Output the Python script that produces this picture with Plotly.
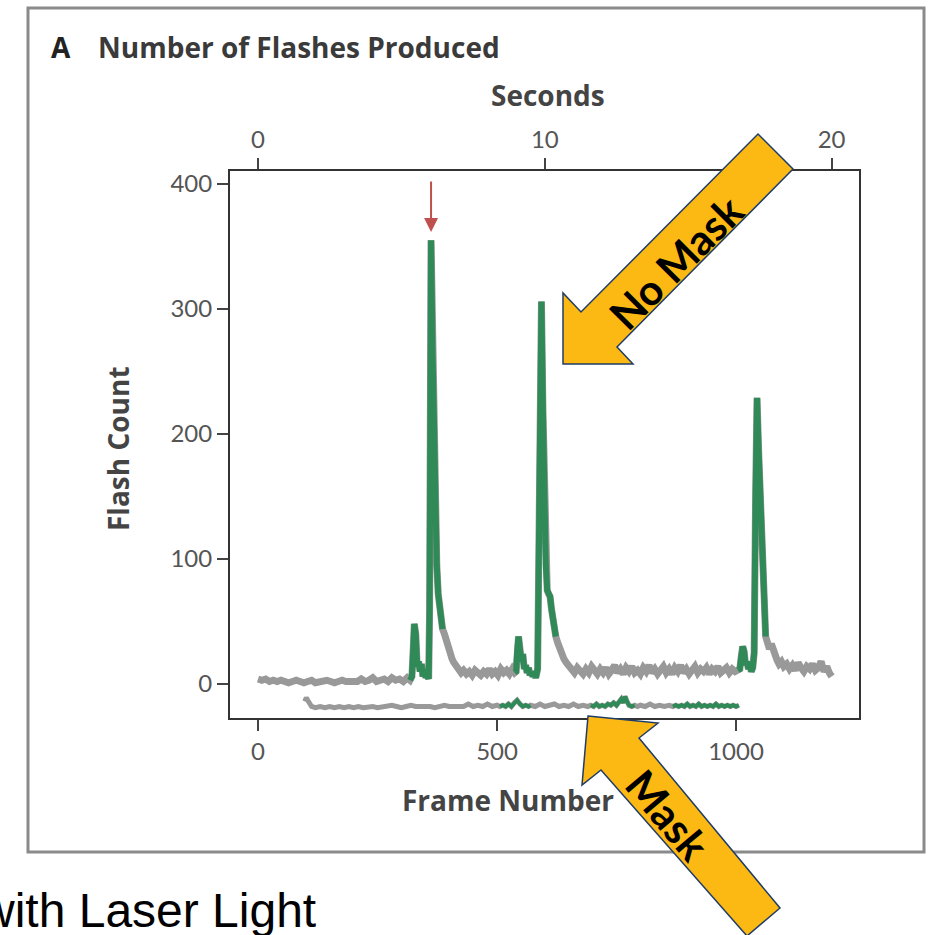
import plotly.graph_objects as go

# ---------------- data ----------------
nomask_frame = [0, 8, 16, 24, 32, 40, 48, 56, 64, 72, 80, 88, 96, 104, 112, 120, 128, 136, 144, 152, 160, 168, 176, 184, 192, 200, 208, 216, 224, 232, 240, 248, 256, 264, 272, 280, 288, 296, 304, 312, 318,
                322, 325, 327, 330, 333, 336, 339, 342, 345, 348, 351, 354, 357, 359, 362, 365, 368, 371, 374, 377, 380, 383, 386,
                390, 394, 398, 402, 406, 410, 415, 420, 425, 430, 436, 442, 448, 454, 460, 466, 472, 478, 484, 490, 496, 502, 508, 514, 520, 526, 532, 537,
                540, 542, 545, 548, 551, 554, 557, 560, 563, 566, 569, 572, 575, 578, 581, 585, 588, 593, 596, 599, 602, 605, 608, 611, 614, 617, 620, 623,
                627, 631, 635, 640, 645, 650, 656, 662, 668, 674, 680, 686, 692, 698, 704, 710, 716, 722, 728, 734, 740, 746, 752, 758, 764, 770, 776, 782, 788, 794, 800, 806, 812, 818, 824, 830, 836, 842, 848, 854, 860, 866, 872, 878, 884, 890, 896, 902, 908, 914, 920, 926, 932, 938, 944, 950, 956, 962, 968, 974, 980, 986, 992, 998, 1004,
                1008, 1011, 1014, 1017, 1020, 1023, 1026, 1029, 1032, 1035, 1038, 1041, 1044, 1047, 1050, 1053, 1056, 1059, 1062,
                1066, 1070, 1074, 1078, 1082, 1086, 1090, 1095, 1100, 1106, 1112, 1118, 1124, 1130, 1136, 1142, 1148, 1154, 1160, 1166, 1172, 1178, 1184, 1190, 1195, 1200]
nomask_count = [4, 3, 4, 2, 3, 2, 3, 2, 1, 2, 3, 2, 1, 2, 3, 1, 2, 2, 3, 2, 1, 2, 3, 2, 2, 3, 2, 4, 2, 3, 5, 2, 3, 4, 2, 5, 3, 4, 2, 5, 3,
                6, 30, 48, 40, 14, 18, 10, 16, 6, 12, 5, 8, 4, 60, 355, 270, 190, 130, 95, 72, 58, 50, 44,
                40, 34, 28, 24, 20, 17, 14, 12, 9, 11, 8, 10, 7, 11, 9, 7, 10, 8, 12, 8, 10, 7, 12, 9, 11, 8, 12, 9,
                10, 25, 38, 28, 18, 24, 12, 15, 9, 13, 7, 10, 6, 9, 5, 12, 120, 306, 220, 140, 95, 75, 72, 70, 60, 50, 44, 38,
                33, 28, 24, 20, 17, 14, 12, 9, 13, 10, 8, 12, 9, 14, 10, 8, 12, 9, 13, 8, 11, 15, 9, 12, 8, 13, 10, 14, 9, 11, 8, 13, 10, 15, 9, 12, 8, 11, 14, 9, 12, 8, 13, 10, 15, 9, 12, 8, 11, 14, 9, 12, 10, 13, 8, 12, 10, 14, 9, 11, 13, 9, 12, 10, 11,
                12, 22, 30, 26, 15, 18, 12, 15, 10, 13, 25, 150, 229, 190, 152, 120, 85, 55, 38,
                33, 28, 32, 26, 22, 19, 16, 18, 14, 16, 12, 15, 11, 17, 13, 10, 14, 12, 16, 11, 13, 18, 10, 14, 9, 6]

mask_frame = [98, 101, 104, 108, 112, 120, 130, 140, 150, 160, 170, 180, 190, 200, 210, 220, 230, 240, 250, 260, 270, 280, 290, 300, 310, 320, 330, 340, 350, 360, 370, 380, 390, 400, 410, 420, 430, 440, 450, 460, 470, 480, 490, 500,
              506, 512, 518, 524, 530, 536, 542, 548, 554, 560, 566, 570, 580, 590, 600, 610, 620, 630, 640, 650, 660, 670, 680, 690,
              696, 702, 708, 714, 720, 726, 732, 738, 744, 750, 756, 760, 764, 768, 772, 776, 782, 788, 794, 800, 810, 820, 830, 840, 850, 860,
              868, 874, 880, 886, 892, 898, 904, 910, 916, 922, 928, 934, 940, 946, 952, 958, 964, 970, 976, 982, 988, 994, 1000, 1006]
mask_count = [-14, -11, -13, -16, -18, -19, -18, -19, -18, -19, -18, -19, -18, -19, -18, -19, -18, -18, -19, -18, -18, -17, -18, -19, -18, -17, -18, -18, -17, -18, -19, -18, -17, -18, -18, -17, -18, -16, -18, -17, -18, -16, -18, -17,
              -18, -17, -18, -16, -18, -15, -13, -16, -18, -17, -18, -17, -18, -16, -18, -17, -16, -18, -17, -18, -16, -18, -17, -18,
              -17, -18, -16, -18, -17, -18, -16, -17, -15, -17, -14, -12, -15, -10, -14, -17, -18, -17, -18, -17, -18, -16, -18, -17, -18, -17,
              -18, -17, -18, -17, -18, -16, -18, -17, -18, -16, -18, -17, -18, -17, -18, -16, -18, -17, -18, -17, -18, -17, -18, -17]

# frame windows in which the trace is highlighted green (laser on)
nomask_laser_windows = [(318, 386), (537, 623), (1004, 1062)]
mask_laser_windows = [(506, 570), (696, 790), (868, 1006)]

x_ticks = [0, 500, 1000]
y_ticks = [0, 100, 200, 300, 400]
sec_ticks = [0, 10, 20]
FPS = 60
peak_marker_frame = 362

# ---------------- style ----------------
GRAY = "#999999"
GREEN = "#2f8a58"
FONT = "Lato, sans-serif"
TITLE_FONT = "Open Sans, Lato, sans-serif"
W, H = 929, 935
L, R, T, B = 230, 859, 171, 718   # plot area in pixels
X0 = -58.6
X1 = 1257.3
Y0 = -27.2
Y1 = 410.4


def px(x, y):
    return (x - L) / (R - L), (B - y) / (B - T)


fig = go.Figure()


def add_series(frames, counts, windows, width):
    fig.add_trace(go.Scatter(x=frames, y=counts, mode="lines",
                             line=dict(color=GRAY, width=width), hoverinfo="skip"))
    for a, b in windows:
        xs = [f for f in frames if a <= f <= b]
        ys = [c for f, c in zip(frames, counts) if a <= f <= b]
        fig.add_trace(go.Scatter(x=xs, y=ys, mode="lines",
                                 line=dict(color=GREEN, width=width - 1), hoverinfo="skip"))


add_series(nomask_frame, nomask_count, nomask_laser_windows, 7)
add_series(mask_frame, mask_count, mask_laser_windows, 5)

# invisible trace on the top (seconds) axis
fig.add_trace(go.Scatter(x=[t for t in sec_ticks], y=[None] * len(sec_ticks), xaxis="x2",
                         mode="lines", showlegend=False, hoverinfo="skip"))

axis_common = dict(showgrid=False, zeroline=False, showline=True, linecolor="#333333", linewidth=2,
                   ticks="outside", ticklen=11, tickwidth=2, tickcolor="#444444",
                   tickfont=dict(family=FONT, size=24, color="#555555"))

fig.update_layout(
    width=W, height=H,
    margin=dict(l=L, r=W - R, t=T, b=H - B),
    plot_bgcolor="white", paper_bgcolor="white", showlegend=False,
    xaxis=dict(range=[X0, X1], tickvals=x_ticks, mirror=True, **axis_common),
    yaxis=dict(range=[Y0, Y1], tickvals=y_ticks, mirror=True, **axis_common),
    xaxis2=dict(range=[X0 / FPS, X1 / FPS], tickvals=sec_ticks, overlaying="x", side="top",
                **axis_common),
)

ann = []


def text(x, y, s, size, color="#444444", weight=700, angle=0, family=TITLE_FONT, xanchor="center"):
    xp, yp = px(x, y)
    ann.append(dict(x=xp, y=yp, xref="paper", yref="paper", text=s,
                    showarrow=False, textangle=angle, xanchor=xanchor, yanchor="middle",
                    font=dict(family=family, size=size, color=color, weight=weight)))


text(49, 47, "A", 28, color="#222222", xanchor="left")
text(96, 47, "Number of Flashes Produced", 28, color="#3a3a3a", xanchor="left")
text(548, 95, "Seconds", 28)
text(508, 800, "Frame Number", 28)
text(118, 449, "Flash Count", 28, angle=-90)

# red arrow marking the peak
ann.append(dict(x=peak_marker_frame, y=Y1 - (232 - T) / 1.25, xref="x", yref="y",
                ax=0, ay=-52, showarrow=True, arrowhead=2, arrowsize=1.4, arrowwidth=2,
                arrowcolor="#c0504d", text=""))

# outer frame
shapes = []
fx0, fy0 = px(28, 8)
fx1, fy1 = px(924, 852)
shapes.append(dict(type="rect", xref="paper", yref="paper", x0=fx0, y0=fy1, x1=fx1, y1=fy0,
                   line=dict(color="#8a8a8a", width=3), layer="below"))


def poly(points):
    d = ""
    for i, (x, y) in enumerate(points):
        xp, yp = px(x, y)
        d += ("M" if i == 0 else "L") + f"{xp:.5f},{yp:.5f} "
    return d + "Z"


no_mask_arrow = [(758, 134), (793, 169), (617, 347), (633, 364), (563, 364), (563, 293), (581, 312)]
mask_arrow = [(588, 716), (658, 723), (639, 738), (780, 908), (747, 936), (601, 770), (582, 785)]
for pts in (no_mask_arrow, mask_arrow):
    shapes.append(dict(type="path", xref="paper", yref="paper", path=poly(pts),
                       fillcolor="#FDB913", line=dict(color="#1f3d66", width=1.5), layer="above"))

fig.update_layout(shapes=shapes)

text(676, 262, "No Mask", 42, color="black", weight=700, angle=-45, family=FONT)
text(668, 815, "Mask", 42, color="black", weight=700, angle=50, family=FONT)
text(318, 910, "with Laser Light", 48, color="black", weight=400,
     family="Liberation Sans, Arial, sans-serif", xanchor="right")

fig.update_layout(annotations=ann)

fig.write_html("out.html", config={"displayModeBar": False},
               post_script="document.body.style.margin='0';document.body.style.overflow='hidden';")
